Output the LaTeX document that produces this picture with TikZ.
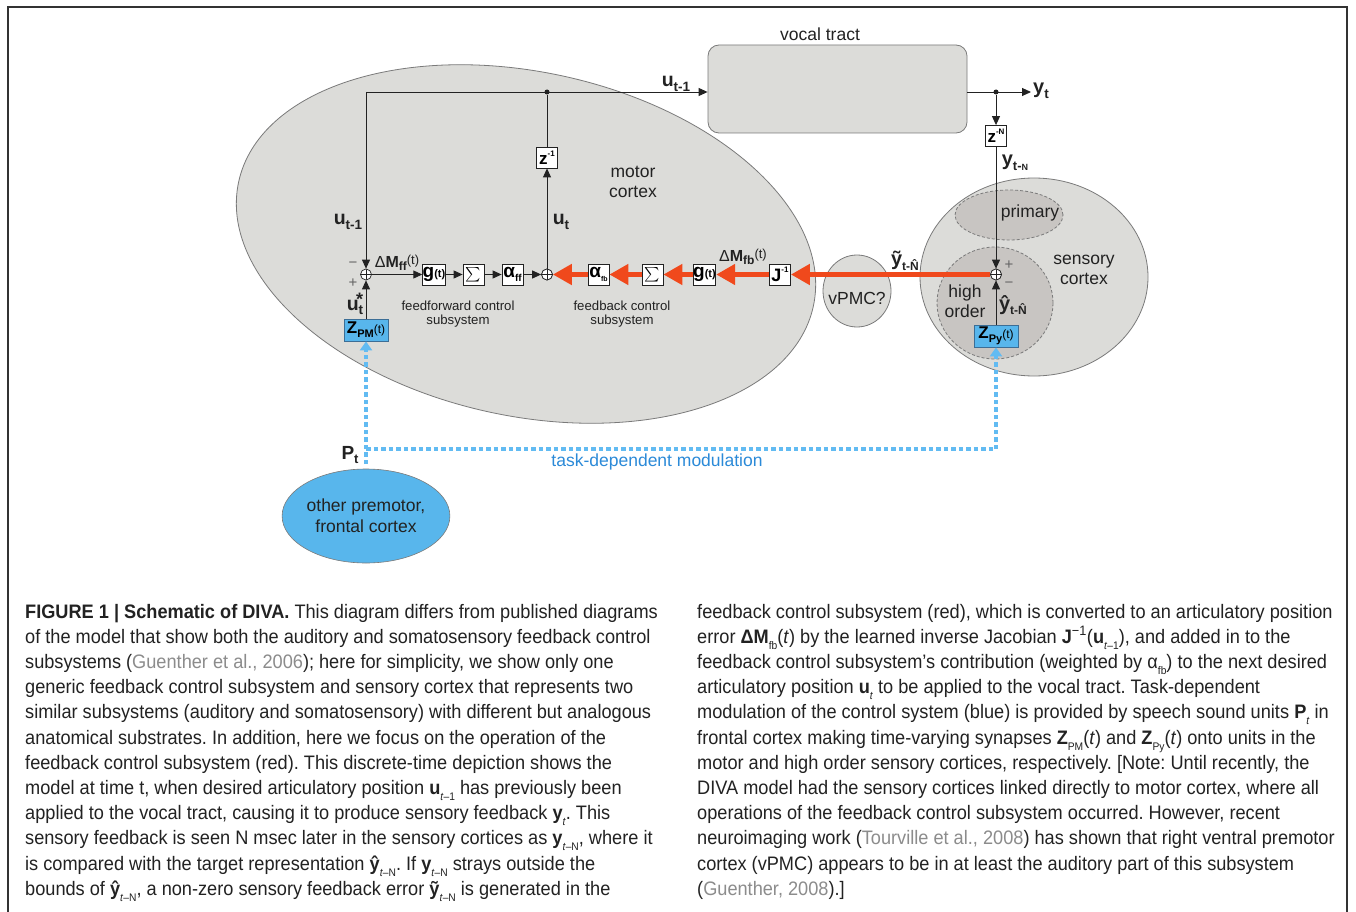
\documentclass[tikz,border=0pt]{standalone}
\usepackage{fontspec}
\usepackage{graphicx}
\setmainfont{Liberation Sans}
\newfontfamily\capfont[FakeStretch=0.932]{Liberation Sans}
\usetikzlibrary{arrows.meta,shapes.geometric,calc}
\definecolor{cortexgray}{HTML}{DCDCD9}
\definecolor{innergray}{HTML}{C8C5C2}
\definecolor{edgegray}{HTML}{7A7A7A}
\definecolor{fbred}{HTML}{F0491C}
\definecolor{zblue}{HTML}{58B6EC}
\definecolor{zedge}{HTML}{3C6E96}
\definecolor{dotblue}{HTML}{62BBF2}
\definecolor{textblue}{HTML}{2B8AD8}
\definecolor{citegray}{HTML}{8C8C8C}
\definecolor{ink}{HTML}{222222}
\definecolor{framegray}{HTML}{333333}
\newcommand\fsz[1]{\fontsize{#1}{#1}\selectfont}
\newcommand\dsub[2]{\raisebox{-0.45ex}{\fsz{#1}\bfseries #2}}
\newcommand\dsup[2]{\raisebox{0.9ex}{\fsz{#1}\bfseries #2}}
\newcommand\csub[1]{\raisebox{-0.6ex}{\fsz{11}#1}}
\newcommand\cgr[1]{\textcolor{citegray}{#1}}
\frenchspacing
\begin{document}
\begin{tikzpicture}[x=1pt,y=-1pt,
  inkline/.style={draw=ink,line width=0.9pt},
  arr/.style={draw=ink,line width=0.9pt,-{Triangle[length=9pt,width=8pt]}},
  redarr/.style={draw=fbred,line width=5.5pt,-{Triangle[length=19pt,width=20pt]}},
  bluearr/.style={draw=dotblue,line width=4.5pt,dash pattern=on 4.5pt off 3pt,-{Triangle[length=9pt,width=12pt]}},
  blk/.style={draw=ink,fill=white,line width=0.8pt,minimum width=21pt,minimum height=21pt,inner sep=0pt},
  zbox/.style={draw=zedge,fill=zblue,line width=0.8pt,minimum width=44pt,minimum height=22pt,inner sep=0pt},
  sumnode/.style={circle,draw=ink,fill=white,line width=0.7pt,minimum size=11pt,inner sep=0pt,
     path picture={\draw[ink,line width=0.6pt] (path picture bounding box.north) -- (path picture bounding box.south) (path picture bounding box.west) -- (path picture bounding box.east);}},
  dotnode/.style={circle,fill=ink,inner sep=0pt,minimum size=5pt},
  region/.style={draw=edgegray,fill=cortexgray,line width=0.8pt},
  subregion/.style={draw=edgegray,fill=innergray,line width=0.8pt,dash pattern=on 3pt off 2pt},
  lab/.style={inner sep=0pt,text=ink},
  bigtext/.style={lab,font=\fontsize{17.5}{19.5}\selectfont,align=center},
  smalltext/.style={lab,font=\fontsize{13.2}{13.5}\selectfont,align=center},
  capline/.style={inner sep=0pt,anchor=base west,font=\capfont\fsz{19.5},text=ink},
]
\useasboundingbox (0,0) rectangle (1356,912);
\fill[white] (0,0) rectangle (1356,912);
\draw[framegray,line width=1.8pt] (8,920) -- (8,7) -- (1347,7) -- (1347,920);

% regions
\node[region,ellipse,minimum width=588pt,minimum height=344pt,rotate=-12.2] (mc) at (526,244) {};
\node[region,ellipse,minimum width=228pt,minimum height=198pt] (sc) at (1034,277) {};
\node[subregion,ellipse,minimum width=108pt,minimum height=50pt] (pr) at (1009,215) {};
\node[subregion,ellipse,minimum width=116pt,minimum height=112pt] (ho) at (995,303) {};
\node[region,ellipse,minimum width=68pt,minimum height=72pt] (vp) at (857,291) {};
\node[region,rectangle,rounded corners=11pt,minimum width=259pt,minimum height=88pt] (vt) at (837.5,89) {};
\node[ellipse,fill=zblue,draw=edgegray,line width=0.6pt,minimum width=132pt,minimum height=94pt,inner sep=0pt,
  font=\fontsize{17.5}{21}\selectfont,align=center,text=ink] (pm) at (366,516) {other premotor,\\frontal cortex};

% region labels
\node[bigtext] (vtl) at (820,34) {vocal tract};
\node[bigtext] (mcl) at (633,182) {motor\\cortex};
\node[bigtext] (scl) at (1084,270) {sensory\\cortex};
\node[bigtext] (prl) at (1030,213) {primary};
\node[bigtext] (hol) at (965,301) {high\\order};
\node[bigtext] (vpl) at (857,298) {vPMC?};
\node[smalltext] (ffl) at (458,314) {feedforward control\\subsystem};
\node[smalltext] (fbl) at (622,314) {feedback control\\subsystem};

% junctions and sums
\coordinate (tl) at (366,92);
\node[dotnode] (dM) at (547,92) {};
\node[dotnode] (dS) at (996,92) {};
\coordinate (yt) at (1031,92);
\node[sumnode] (sF) at (366,274.5) {};
\node[sumnode] (sM) at (547,274.5) {};
\node[sumnode] (sS) at (996,274.5) {};

% blocks
\node[blk] (z1) at (547,157.5) {\fsz{17}\textbf{z}\dsup{8}{-1}};
\node[blk] (zN) at (996,136) {\fsz{17}\textbf{z}\dsup{8}{-N}};
\node[blk] (gF) at (434,274.5) {\fsz{19}\textbf{g}\fsz{11}\bfseries(t)};
\node[blk] (SF) at (473.5,274.5) {\scalebox{1.45}{$\sum$}};
\node[blk] (aF) at (512.5,274.5) {\fsz{19}\textbf{α}\dsub{10}{ff}};
\node[blk] (aB) at (598.5,274.5) {\fsz{19}\textbf{α}\dsub{7}{fb}};
\node[blk] (SB) at (652.5,274.5) {\scalebox{1.45}{$\sum$}};
\node[blk] (gB) at (704.5,274.5) {\fsz{19}\textbf{g}\fsz{11}\bfseries(t)};
\node[blk] (Jb) at (780,274.5) {\fsz{18}\textbf{J}\dsup{8}{-1}};
\node[zbox] (ZPM) at (366,330) {\fsz{17}\textbf{Z}\dsub{11}{PM}\fsz{12}(t)};
\node[zbox] (ZPy) at (996,336) {\fsz{17}\textbf{Z}\dsub{11}{Py}\fsz{12}(t)};

% black connectors
\draw[arr] (tl) -- (tl -| vt.west);
\draw[arr] (tl) -- (sF.north);
\draw[inkline] (z1.north) -- (dM);
\draw[arr] (sM.north) -- (z1.south);
\draw[arr] (sF.east) -- (gF.west);
\draw[arr] (gF.east) -- (SF.west);
\draw[arr] (SF.east) -- (aF.west);
\draw[arr] (aF.east) -- (sM.west);
\draw[arr] (ZPM.north) -- (sF.south);
\draw[arr] (vt.east |- yt) -- (yt);
\draw[arr] (dS) -- (zN.north);
\draw[arr] (zN.south) -- (sS.north);
\draw[arr] (ZPy.north) -- (sS.south);

% red feedback connectors
\draw[redarr] (sS.west) -- (Jb.east);
\draw[redarr] (Jb.west) -- (gB.east);
\draw[redarr] (gB.west) -- (SB.east);
\draw[redarr] (SB.west) -- (aB.east);
\draw[redarr] (aB.west) -- (sM.east);
\node[sumnode] (sStop) at (sS) {};
\node[sumnode] (sMtop) at (sM) {};

% blue modulation
\coordinate (bj) at (366,449);
\coordinate (pmtop) at (366,464);
\draw[bluearr] (pmtop) -- (ZPM.south);
\draw[bluearr] (bj) -- (bj -| ZPy.south) -- (ZPy.south);

% signal labels
\node[lab] (ut1a) at (676,84) {\fsz{19.5}\textbf{u}\dsub{13.5}{t-1}};
\node[lab] (ut1b) at (348,222) {\fsz{19.5}\textbf{u}\dsub{13.5}{t-1}};
\node[lab] (utl) at (561,222) {\fsz{19.5}\textbf{u}\dsub{13.5}{t}};
\node[lab] (dmff) at (397,263) {\fsz{16}Δ\textbf{M}\dsub{12}{ff}\raisebox{0.3ex}{\fsz{13}(t)}};
\node[lab,text=ink!70] (mnF) at (353,265) {\fsz{15}−};
\node[lab,text=ink!70] (plF) at (353,283) {\fsz{15}+};
\node[lab,anchor=base] (ust) at (355,310) {\fsz{19.5}\textbf{u}\dsub{13.5}{t}\llap{\raisebox{0.45ex}{\fsz{18}\bfseries *}}};
\node[lab] (dmfb) at (743,257) {\fsz{16}Δ\textbf{M}\dsub{12}{fb}\raisebox{0.3ex}{\fsz{13}(t)}};
\node[lab] (ytil) at (905,261) {\fsz{20}\textbf{ỹ}\dsub{12}{t-\^N}};
\node[lab] (ytl) at (1041,91) {\fsz{20}\textbf{y}\dsub{13.5}{t}};
\node[lab] (ytN) at (1015,163) {\fsz{20}\textbf{y}\dsub{13}{t-}\dsub{9}{N}};
\node[lab,text=ink!70] (plS) at (1009,265) {\fsz{15}+};
\node[lab,text=ink!70] (mnS) at (1009,285) {\fsz{15}−};
\node[lab] (yhat) at (1013,305) {\fsz{20}\textbf{ŷ}\dsub{12}{t-\^N}};
\node[lab] (Ptl) at (350,455) {\fsz{19}\textbf{P}\dsub{13}{t}};
\node[lab,text=textblue,font=\fsz{17.5}] (tdm) at (657,462) {task-dependent modulation};

% caption, left column
\node[capline] (l1) at (25,618) {\textbf{FIGURE 1 | Schematic of DIVA.} This diagram differs from published diagrams};
\node[capline] (l2) at (25,643.2) {of the model that show both the auditory and somatosensory feedback control};
\node[capline] (l3) at (25,668.4) {subsystems (\cgr{Guenther et al., 2006}); here for simplicity, we show only one};
\node[capline] (l4) at (25,693.6) {generic feedback control subsystem and sensory cortex that represents two};
\node[capline] (l5) at (25,718.8) {similar subsystems (auditory and somatosensory) with different but analogous};
\node[capline] (l6) at (25,744) {anatomical substrates. In addition, here we focus on the operation of the};
\node[capline] (l7) at (25,769.2) {feedback control subsystem (red). This discrete-time depiction shows the};
\node[capline] (l8) at (25,794.4) {model at time t, when desired articulatory position \textbf{u}\csub{\textit{t}–1} has previously been};
\node[capline] (l9) at (25,819.6) {applied to the vocal tract, causing it to produce sensory feedback \textbf{y}\csub{\textit{t}}. This};
\node[capline] (l10) at (25,844.8) {sensory feedback is seen N msec later in the sensory cortices as \textbf{y}\csub{\textit{t}–N}, where it};
\node[capline] (l11) at (25,870) {is compared with the target representation \textbf{ŷ}\csub{\textit{t}–N}. If \textbf{y}\csub{\textit{t}–N} strays outside the};
\node[capline] (l12) at (25,895.2) {bounds of \textbf{ŷ}\csub{\textit{t}–N}, a non-zero sensory feedback error \textbf{ỹ}\csub{\textit{t}–N} is generated in the};

% caption, right column
\node[capline] (r1) at (697,618) {feedback control subsystem (red), which is converted to an articulatory position};
\node[capline] (r2) at (697,643.2) {error \textbf{ΔM}\csub{fb}(\textit{t}) by the learned inverse Jacobian \textbf{J}\textsuperscript{−1}(\textbf{u}\csub{\textit{t}–1}), and added in to the};
\node[capline] (r3) at (697,668.4) {feedback control subsystem’s contribution (weighted by α\csub{fb}) to the next desired};
\node[capline] (r4) at (697,693.6) {articulatory position \textbf{u}\csub{\textit{t}} to be applied to the vocal tract. Task-dependent};
\node[capline] (r5) at (697,718.8) {modulation of the control system (blue) is provided by speech sound units \textbf{P}\csub{\textit{t}} in};
\node[capline] (r6) at (697,744) {frontal cortex making time-varying synapses \textbf{Z}\csub{PM}(\textit{t}) and \textbf{Z}\csub{Py}(\textit{t}) onto units in the};
\node[capline] (r7) at (697,769.2) {motor and high order sensory cortices, respectively. [Note: Until recently, the};
\node[capline] (r8) at (697,794.4) {DIVA model had the sensory cortices linked directly to motor cortex, where all};
\node[capline] (r9) at (697,819.6) {operations of the feedback control subsystem occurred. However, recent};
\node[capline] (r10) at (697,844.8) {neuroimaging work (\cgr{Tourville et al., 2008}) has shown that right ventral premotor};
\node[capline] (r11) at (697,870) {cortex (vPMC) appears to be in at least the auditory part of this subsystem};
\node[capline] (r12) at (697,895.2) {(\cgr{Guenther, 2008}).]};
\end{tikzpicture}
\end{document}
